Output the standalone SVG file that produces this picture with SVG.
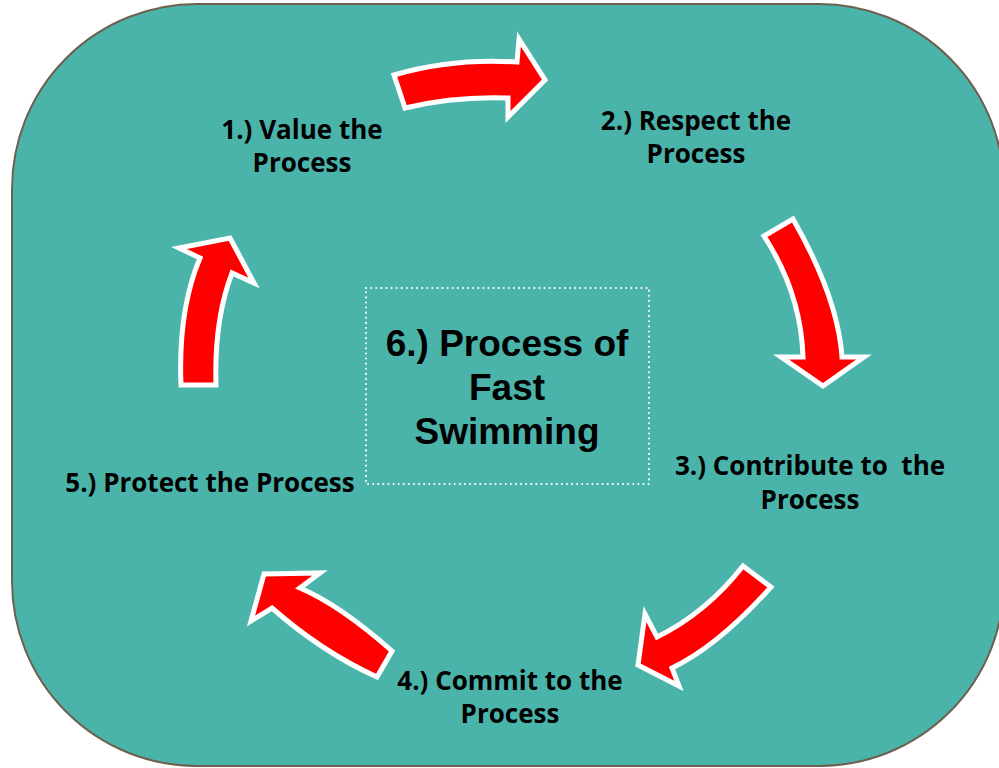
<svg xmlns="http://www.w3.org/2000/svg" width="999" height="768" viewBox="0 0 999 768">
<style>
.arrow{fill:#FF0000;stroke:#FFFFFF;stroke-width:5;stroke-linejoin:miter}
.lbl{font-family:"Open Sans",Lato,"Liberation Sans",sans-serif;font-weight:700;font-size:26px;fill:#000;text-anchor:middle}
.ctr{font-family:"Liberation Sans",Arial,sans-serif;font-weight:700;font-size:37px;fill:#000;text-anchor:middle}
</style>
<rect x="12" y="4" width="992" height="762" rx="185" ry="185" fill="#4BB4AA" stroke="#6E604E" stroke-width="2"/>
<g id="connectors">
<path id="arrow1" class="arrow" d="M394,75 Q452,58 517,62 L519,39 L545,80 L508,117 L508,98 Q455,96 405,108 Z"/>
<path id="arrow2" class="arrow" d="M764,236 Q801,293 803,357 L781,357 L823,386 L864,357 L842,357 Q838,298 793,219 Z"/>
<path id="arrow3" class="arrow" d="M743,566 Q706,613 657,637 L645,614 L638,665 L679,686 L672,668 Q718,646 771,587 Z"/>
<path id="arrow4" class="arrow" d="M392,651 Q340,605 300,588 L320,573 L264,574 L251,621 L272,608 Q322,652 377,677 Z"/>
<path id="arrow5" class="arrow" d="M181,385 Q178,310 200,258 L179,248 L230,238 L254,283 L232,273 Q214,320 216,385 Z"/>
</g>
<g id="node1"><text class="lbl" x="302" y="139">1.) Value the</text><text class="lbl" x="302" y="172">Process</text></g>
<g id="node2"><text class="lbl" x="696" y="130">2.) Respect the</text><text class="lbl" x="696" y="163">Process</text></g>
<g id="node3"><text class="lbl" x="810" y="475" xml:space="preserve">3.) Contribute to  the</text><text class="lbl" x="810" y="509">Process</text></g>
<g id="node4"><text class="lbl" x="510" y="690">4.) Commit to the</text><text class="lbl" x="510" y="723">Process</text></g>
<g id="node5"><text class="lbl" x="210" y="492">5.) Protect the Process</text></g>
<g id="node6">
<rect x="366" y="288" width="283" height="196" fill="none" stroke="#FFFFFF" stroke-width="2" stroke-dasharray="0.1 5" stroke-linecap="round"/>
<text class="ctr" x="507" y="356">6.) Process of</text>
<text class="ctr" x="507" y="400">Fast</text>
<text class="ctr" x="507" y="444">Swimming</text>
</g>
</svg>
